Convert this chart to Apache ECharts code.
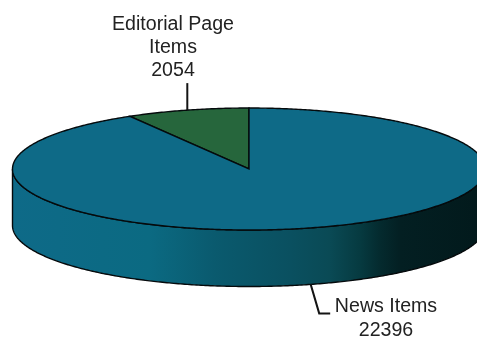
<!DOCTYPE html>
<html>
<head>
<meta charset="utf-8">
<style>html,body{margin:0;padding:0;background:#fff}#chart{width:477px;height:338px}</style>
<script src="https://cdn.jsdelivr.net/npm/echarts@6/dist/echarts.min.js"></script>
</head>
<body>
<div id="chart"></div>
<script>
// Share of newspaper items by type
const categories = ['Editorial Page\nItems', 'News Items'];
const itemCounts = [2054, 22396];

const chart = echarts.init(document.getElementById('chart'), null, { renderer: 'canvas' });

// Disc geometry: a tilted pie whose top face is an ellipse with a visible rim
const disc = { cx: 249, cy: 169, rx: 236.5, ry: 61, depth: 56.5 };
const topColors = ['#26663c', '#0e6a87'];
const labelBoxes = [
  { x: 173, y: 13.5, lineHeight: 23 },
  { x: 386, y: 294.5, lineHeight: 24 }
];

// Angles run clockwise from twelve o'clock; the first slice ends at twelve
const total = itemCounts.reduce((a, b) => a + b, 0);
const start = -(itemCounts[0] / total) * Math.PI * 2;
const spans = [];
let running = start;
itemCounts.forEach((v) => {
  const sweep = (v / total) * Math.PI * 2;
  spans.push({ from: running, to: running + sweep });
  running += sweep;
});

const rimPoint = (a, drop) => [
  disc.cx + disc.rx * Math.sin(a),
  disc.cy - disc.ry * Math.cos(a) + (drop || 0)
];

function arcPoints(from, to, drop) {
  const steps = Math.max(2, Math.ceil(Math.abs(to - from) / 0.01));
  const pts = [];
  for (let k = 0; k <= steps; k++) pts.push(rimPoint(from + (to - from) * k / steps, drop));
  return pts;
}

const wedgePoints = (span) => [[disc.cx, disc.cy], ...arcPoints(span.from, span.to)];

// Visible front of the rim: lower arc of the top face, then the same arc dropped by the depth
const rimPoints = () => [
  ...arcPoints(Math.PI / 2, Math.PI * 1.5),
  ...arcPoints(Math.PI * 1.5, Math.PI / 2, disc.depth)
];

const rimShade = new echarts.graphic.LinearGradient(0, 0, 1, 0, [
  { offset: 0, color: '#0e6a88' },
  { offset: 0.29, color: '#0b6a82' },
  { offset: 0.43, color: '#0a5a6e' },
  { offset: 0.587, color: '#0a5060' },
  { offset: 0.67, color: '#0a4a55' },
  { offset: 0.735, color: '#063a40' },
  { offset: 0.777, color: '#042a2e' },
  { offset: 0.82, color: '#031f22' },
  { offset: 1, color: '#02191b' }
]);

const edge = { stroke: '#050a0c', lineWidth: 1.4 };

function renderItem(params) {
  if (params.dataIndex !== 0) return { type: 'group', children: [] };
  const children = [
    { type: 'polygon', shape: { points: rimPoints() }, style: { fill: rimShade, ...edge } }
  ];
  spans.forEach((span, i) => {
    children.push({ type: 'polygon', shape: { points: wedgePoints(span) },
      style: { fill: topColors[i], ...edge } });
  });
  // Leader lines start at the middle of each slice's outer edge
  spans.forEach((span) => {
    const mid = (span.from + span.to) / 2;
    const front = Math.cos(mid) < 0;
    const a = rimPoint(mid, front ? disc.depth : 0);
    const points = front
      ? [a, [a[0] + 8.5, a[1] + 29], [a[0] + 19.5, a[1] + 29]]
      : [a, [a[0], a[1] - 27]];
    children.push({ type: 'polyline', shape: { points },
      style: { fill: null, stroke: '#141414', lineWidth: 2 } });
  });
  categories.forEach((name, i) => {
    const box = labelBoxes[i];
    children.push({ type: 'text', x: box.x, y: box.y,
      style: { text: name + '\n' + itemCounts[i], fill: '#222222', align: 'center', verticalAlign: 'top',
        font: '19.6px "Liberation Sans"', lineHeight: box.lineHeight } });
  });
  return { type: 'group', children };
}

chart.setOption({
  animation: false,
  backgroundColor: '#ffffff',
  series: [{
    type: 'custom',
    coordinateSystem: 'none',
    clip: false,
    silent: true,
    data: categories.map((name, i) => ({ name, value: itemCounts[i] })),
    renderItem
  }]
});
</script>
</body>
</html>
